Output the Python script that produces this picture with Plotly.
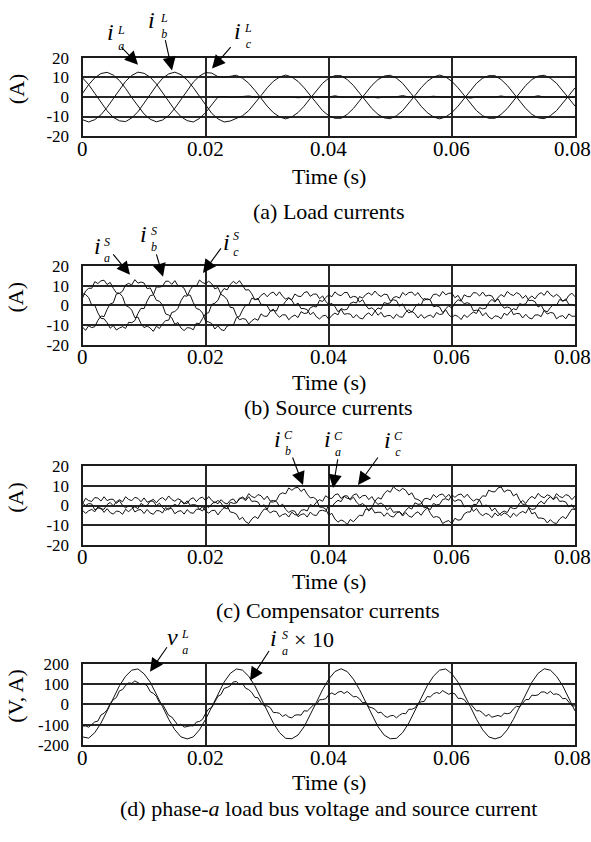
import plotly.graph_objects as go

# ---------------- data ----------------
t1_ms = [0, 1, 2, 3, 4, 5, 6, 7, 8, 9, 10, 11, 12, 13, 14, 15, 16, 17, 18, 19,
         20, 21, 22, 23, 24, 25, 26, 27, 28, 29, 30, 31, 32, 33, 34, 35, 36, 37, 38, 39,
         40, 41, 42, 43, 44, 45, 46, 47, 48, 49, 50, 51, 52, 53, 54, 55, 56, 57, 58, 59,
         60, 61, 62, 63, 64, 65, 66, 67, 68, 69, 70, 71, 72, 73, 74, 75, 76, 77, 78, 79, 80]

t2_ms = [0, 0.5, 1, 1.5, 2, 2.5, 3, 3.5, 4, 4.5, 5, 5.5, 6, 6.5, 7, 7.5, 8, 8.5, 9, 9.5,
         10, 10.5, 11, 11.5, 12, 12.5, 13, 13.5, 14, 14.5, 15, 15.5, 16, 16.5, 17, 17.5, 18, 18.5, 19, 19.5,
         20, 20.5, 21, 21.5, 22, 22.5, 23, 23.5, 24, 24.5, 25, 25.5, 26, 26.5, 27, 27.5, 28, 28.5, 29, 29.5,
         30, 30.5, 31, 31.5, 32, 32.5, 33, 33.5, 34, 34.5, 35, 35.5, 36, 36.5, 37, 37.5, 38, 38.5, 39, 39.5,
         40, 40.5, 41, 41.5, 42, 42.5, 43, 43.5, 44, 44.5, 45, 45.5, 46, 46.5, 47, 47.5, 48, 48.5, 49, 49.5,
         50, 50.5, 51, 51.5, 52, 52.5, 53, 53.5, 54, 54.5, 55, 55.5, 56, 56.5, 57, 57.5, 58, 58.5, 59, 59.5,
         60, 60.5, 61, 61.5, 62, 62.5, 63, 63.5, 64, 64.5, 65, 65.5, 66, 66.5, 67, 67.5, 68, 68.5, 69, 69.5,
         70, 70.5, 71, 71.5, 72, 72.5, 73, 73.5, 74, 74.5, 75, 75.5, 76, 76.5, 77, 77.5, 78, 78.5, 79, 79.5, 80]

# (a) load currents (A), 1 ms samples
ia_L = [-11.6, -12.8, -11.6, -9.1, -5.3, -0.8, 3.9, 8.0, 11.0, 12.7,
        12.1, 10.1, 6.7, 2.3, -2.3, -6.7, -10.1, -12.1, -12.8, -11.0,
        -8.0, -3.9, 0.0, 0.2, -0.1, 0.0, 0.1, 0.5, 0.0, 0.0,
        -0.1, 0.0, 0.1, 0.0, 0.0, -0.4, 0.0, 0.1, 0.0, 0.0,
        0.0, 0.6, 0.0, -0.1, 0.0, 0.0, 0.1, 0.0, -0.5, 0.0,
        0.0, 0.1, 0.7, 0.0, 0.0, -0.1, 0.0, 0.4, 0.0, 0.0,
        0.1, 0.0, 0.0, -0.6, 0.0, 0.0, 0.1, 0.0, 0.5, 0.0,
        -0.1, 0.0, 0.0, 0.0, 0.6, 0.0, 0.0, 0.1, 0.0, -0.4, 0.0]
ib_L = [9.8, 6.3, 1.8, -2.9, -7.1, -10.4, -12.2, -12.6, -10.7, -7.6,
        -3.4, 1.3, 5.8, 9.5, 11.8, 12.7, 11.4, 8.7, 4.8, 0.3,
        -4.4, -8.4, -11.2, -12.8, -12.3, -10.9, -9.6, -7.0, -3.4, 0.7,
        4.7, 8.0, 10.2, 11.2, 10.2, 8.0, 4.7, 0.7, -3.4, -7.0,
        -9.6, -10.9, -10.9, -8.9, -5.9, -2.1, 2.1, 5.9, 8.9, 10.7,
        11.1, 9.6, 7.0, 3.4, -0.7, -4.7, -8.0, -10.2, -11.2, -10.2,
        -8.0, -4.7, -0.7, 3.4, 7.0, 9.6, 10.9, 10.9, 8.9, 5.9,
        2.1, -2.1, -5.9, -8.9, -10.7, -11.1, -9.6, -7.0, -3.4, 0.7, 4.7]
ic_L = [1.8, 6.3, 9.8, 12.0, 12.6, 11.2, 8.4, 4.4, -0.3, -4.8,
        -8.7, -11.4, -12.7, -11.8, -9.5, -5.8, -1.3, 3.4, 7.6, 10.7,
        12.5, 12.2, 10.4, 10.0, 10.7, 11.1, 9.6, 7.0, 3.4, -0.7,
        -4.7, -8.0, -10.2, -11.2, -10.2, -8.0, -4.7, -0.7, 3.4, 7.0,
        9.6, 10.9, 10.9, 8.9, 5.9, 2.1, -2.1, -5.9, -8.9, -10.7,
        -11.1, -9.6, -7.0, -3.4, 0.7, 4.7, 8.0, 10.2, 11.2, 10.2,
        8.0, 4.7, 0.7, -3.4, -7.0, -9.6, -10.9, -10.9, -8.9, -5.9,
        -2.1, 2.1, 5.9, 8.9, 10.7, 11.1, 9.6, 7.0, 3.4, -0.7, -4.7]

# (b) source currents (A), 0.5 ms samples
ia_S = [-11.0, -12.7, -10.3, -11.3, -10.8, -7.6, -5.4, -5.7, -2.0, 0.8,
        1.3, 5.8, 6.1, 7.2, 10.4, 11.2, 10.4, 13.1, 11.3, 11.9,
        11.4, 8.5, 8.9, 5.4, 2.6, 2.1, 0.2, -4.3, -4.9, -6.3,
        -9.6, -8.7, -11.5, -12.8, -11.3, -11.5, -12.4, -9.0, -9.3, -6.6,
        -4.2, -3.7, 0.5, 1.1, 2.6, 6.4, 8.6, 7.9, 10.7, 12.2,
        11.0, 12.6, 9.9, 7.8, 8.0, 5.9, 2.8, 3.6, 0.5, 0.5,
        -0.2, -2.9, -1.9, -4.5, -6.0, -4.8, -4.8, -7.3, -5.8, -4.9,
        -6.2, -3.2, -4.1, -3.9, -1.2, -0.5, -0.8, 2.6, 2.0, 4.0,
        5.3, 4.4, 6.9, 5.5, 4.9, 6.5, 6.6, 3.8, 4.6, 4.3,
        1.7, 2.9, 0.1, -1.8, -1.2, -2.6, -5.0, -3.5, -5.9, -5.2,
        -5.1, -6.7, -4.5, -5.8, -6.0, -3.5, -2.2, -3.5, -0.9, 0.8,
        0.2, 3.6, 2.9, 3.1, 5.6, 5.7, 4.6, 7.1, 5.4, 6.2,
        6.2, 3.9, 5.1, 2.5, 0.8, 1.4, 0.6, -2.8, -2.4, -2.7,
        -5.3, -3.7, -5.9, -6.9, -5.3, -5.6, -6.8, -4.0, -5.0, -3.0,
        -1.7, -2.2, 0.9, 0.4, 0.8, 3.5, 4.8, 3.3, 5.5, 6.5,
        5.1, 7.4, 5.5, 4.4, 5.6, 4.4, 2.0, 3.3, 0.5, 0.5, -0.2]
ib_S = [6.0, 5.5, 4.0, 0.1, 0.1, -3.8, -6.6, -6.8, -8.8, -11.6,
        -10.2, -12.5, -11.5, -10.8, -11.7, -8.6, -8.8, -7.7, -4.1, -1.5,
        -1.6, 2.2, 5.0, 5.3, 9.4, 9.3, 9.7, 12.3, 12.3, 10.7,
        12.6, 10.0, 9.9, 8.7, 5.3, 5.2, 1.4, -1.6, -2.1, -3.9,
        -8.1, -8.4, -9.2, -12.0, -10.3, -12.3, -12.8, -10.5, -10.0, -10.1,
        -6.2, -5.6, -2.3, 0.1, 0.2, 3.7, 3.1, 3.1, 5.1, 6.2,
        4.4, 6.1, 6.8, 4.9, 6.9, 4.6, 3.2, 4.0, 2.6, 0.0,
        1.2, -1.6, -1.6, -2.2, -4.7, -3.5, -5.8, -6.9, -5.4, -5.0,
        -7.0, -5.1, -3.9, -4.8, -1.6, -2.3, -1.9, 1.0, 1.7, 1.2,
        4.5, 3.7, 5.5, 6.4, 5.2, 7.3, 5.5, 4.5, 5.7, 5.5,
        2.3, 2.9, 2.4, -0.4, 0.8, -2.0, -3.8, -3.0, -4.2, -6.4,
        -4.6, -6.5, -5.5, -4.9, -6.2, -3.6, -4.6, -4.4, -1.7, -0.2,
        -1.4, 1.2, 2.9, 2.2, 5.4, 4.5, 4.4, 6.5, 6.3, 4.8,
        6.8, 4.7, 5.2, 4.8, 2.3, 3.3, 0.5, -1.4, -0.8, -1.4,
        -4.7, -4.1, -4.2, -6.4, -4.5, -6.3, -6.9, -4.9, -4.8, -5.7,
        -2.5, -3.3, -1.1, 0.4, -0.1, 3.0, 2.4, 2.6, 5.1, 6.2, 4.4]
ic_S = [3.7, 7.3, 8.7, 8.7, 12.1, 11.1, 12.5, 12.8, 10.6, 11.7,
        8.7, 6.4, 6.2, 4.5, 0.0, -0.8, -2.4, -6.2, -5.9, -9.2,
        -11.3, -10.5, -11.5, -13.2, -10.6, -11.7, -9.5, -7.7, -7.5, -3.6,
        -3.1, -1.6, 2.4, 4.9, 4.7, 8.0, 10.2, 9.7, 12.9, 11.6,
        11.0, 12.3, 11.0, 8.4, 9.1, 5.6, 4.7, 2.9, -1.0, -1.2,
        -5.1, -7.3, -6.7, -7.0, -9.5, -7.8, -6.7, -7.6, -4.3, -5.5,
        -5.5, -3.0, -2.5, -2.9, 0.5, -0.1, 2.1, 3.6, 2.9, 5.8,
        4.7, 4.5, 6.5, 7.0, 4.6, 5.7, 5.8, 3.4, 4.8, 2.1,
        0.4, 1.0, -0.6, -3.2, -1.9, -4.5, -4.2, -4.4, -6.4, -4.7,
        -6.4, -6.9, -4.8, -3.8, -5.3, -2.9, -1.3, -1.9, 1.5, 0.9,
        1.3, 4.0, 4.5, 3.7, 6.6, 5.2, 6.5, 6.8, 5.0, 6.5,
        4.1, 2.6, 3.4, 2.7, -0.7, -0.3, -0.8, -3.6, -2.2, -4.8,
        -6.1, -4.9, -5.6, -7.2, -4.8, -6.1, -4.5, -3.4, -4.1, -1.1,
        -1.8, -1.4, 1.5, 3.0, 1.7, 4.1, 5.5, 4.4, 7.1, 5.7,
        5.0, 6.5, 5.7, 3.6, 5.1, 2.5, 2.6, 1.9, -0.8, 0.1,
        -2.7, -4.4, -3.6, -3.9, -6.8, -5.6, -5.2, -6.8, -4.3, -5.5, -5.5]

# (c) compensator currents (A), 0.5 ms samples
ia_C = [1.3, 0.0, 1.0, 0.8, -2.2, -1.3, -1.3, -3.5, -1.6, -3.6,
        -4.4, -2.8, -3.1, -4.5, -1.9, -3.2, -1.6, -0.6, -1.6, 1.1,
        0.0, 0.0, 2.3, 3.2, 1.4, 3.3, 4.1, 2.6, 4.9, 3.1,
        2.2, 3.5, 2.7, 0.7, 2.4, 0.1, 0.5, 0.2, -2.0, -0.6,
        -2.8, -3.9, -2.6, -2.4, -4.8, -2.6, -1.1, -1.7, 1.7, 1.1,
        1.3, 3.8, 3.8, 2.5, 4.5, 2.1, 2.3, 1.8, -0.7, 0.4,
        -2.2, -3.8, -2.8, -3.1, -5.8, -4.6, -4.2, -5.9, -3.4, -4.7,
        -4.9, -2.5, -2.1, -2.8, 0.5, -0.3, 1.7, 3.0, 2.2, 5.0,
        3.8, 3.6, 5.5, 6.0, 3.6, 4.9, 5.0, 2.8, 4.3, 1.8,
        0.2, 1.0, -0.3, -2.8, -1.3, -3.8, -3.4, -3.5, -5.5, -3.7,
        -5.4, -5.9, -3.9, -3.1, -4.7, -2.5, -1.0, -1.8, 1.4, 0.6,
        0.8, 3.4, 3.7, 2.9, 5.6, 4.2, 5.5, 5.9, 4.1, 5.7,
        3.5, 2.1, 3.0, 2.6, -0.7, -0.1, -0.4, -3.0, -1.5, -4.0,
        -5.2, -4.0, -4.6, -6.2, -3.8, -5.3, -3.7, -2.8, -3.6, -0.8,
        -1.6, -1.4, 1.2, 2.6, 1.1, 3.4, 4.7, 3.5, 6.2, 4.7,
        4.0, 5.5, 4.8, 2.9, 4.5, 2.1, 2.3, 1.8, -0.7, 0.4, -2.2]
ib_C = [0.9, 3.7, 2.5, 2.1, 4.1, 3.8, 2.3, 4.5, 2.5, 3.2,
        3.2, 1.1, 2.5, 0.1, -1.2, -0.2, -0.4, -3.3, -2.3, -2.1,
        -4.1, -2.0, -3.8, -4.5, -2.6, -2.7, -3.8, -1.0, -2.2, -0.4,
        0.6, -0.3, 2.3, 1.2, 1.1, 3.2, 4.0, 2.0, 3.7, 4.3,
        2.5, 4.6, 2.6, 1.4, 2.6, 1.4, -1.2, -0.2, -3.3, -3.6,
        -4.4, -7.2, -6.0, -8.3, -9.2, -6.9, -5.6, -6.7, -3.9, -1.8,
        -2.0, 1.9, 1.8, 2.6, 5.7, 6.5, 6.0, 9.0, 7.8, 9.0,
        9.3, 7.2, 8.5, 5.8, 3.9, 4.2, 3.1, -0.8, -0.9, -1.8,
        -5.0, -4.0, -6.9, -8.5, -7.4, -8.1, -9.7, -7.1, -8.3, -6.4,
        -4.9, -5.3, -1.8, -2.0, -1.1, 2.2, 4.1, 3.3, 6.0, 7.7,
        6.8, 9.6, 8.2, 7.4, 8.8, 7.8, 5.4, 6.5, 3.5, 3.1,
        2.0, -1.2, -0.8, -4.0, -6.1, -5.6, -6.2, -9.2, -8.2, -7.7,
        -9.3, -6.5, -7.5, -7.2, -4.3, -3.3, -3.3, 0.6, 0.5, 3.1,
        5.0, 4.7, 7.9, 7.1, 7.0, 9.0, 9.5, 6.9, 7.9, 7.7,
        4.9, 6.0, 2.8, 0.6, 0.7, -1.3, -4.3, -3.5, -6.4, -6.4,
        -6.8, -8.9, -7.2, -8.8, -9.2, -6.9, -5.6, -6.7, -3.9, -1.8, -2.0]
ic_C = [-2.4, -4.0, -2.7, -2.0, -3.2, -0.7, -1.8, -1.9, 0.5, 1.6,
        -0.2, 1.9, 3.0, 1.9, 4.5, 3.1, 2.5, 4.2, 3.7, 1.9,
        3.9, 1.7, 2.3, 2.2, -0.1, 1.2, -1.1, -2.5, -1.3, -1.5,
        -4.2, -3.0, -2.6, -4.4, -2.1, -3.6, -4.0, -1.9, -1.9, -2.8,
        0.1, -1.0, 0.8, 1.9, 0.9, 3.0, 1.4, 0.8, 2.7, 3.4,
        1.4, 3.3, 4.4, 3.2, 6.1, 4.6, 4.0, 5.6, 5.0, 3.0,
        4.8, 2.3, 2.6, 2.1, -0.4, 0.7, -2.0, -3.5, -2.6, -2.9,
        -5.7, -4.6, -4.2, -5.9, -3.4, -4.8, -5.1, -2.7, -2.4, -3.0,
        0.2, -0.6, 1.4, 2.7, 2.0, 4.7, 3.7, 3.4, 5.4, 6.0,
        3.7, 5.0, 5.2, 3.0, 4.6, 2.1, 0.6, 1.3, 0.0, -2.4,
        -1.0, -3.5, -3.2, -3.3, -5.4, -3.6, -5.4, -6.0, -4.1, -3.2,
        -5.0, -2.7, -1.3, -2.1, 1.1, 0.3, 0.6, 3.1, 3.5, 2.7,
        5.5, 4.2, 5.5, 5.9, 4.1, 5.8, 3.7, 2.3, 3.3, 2.8,
        -0.4, 0.2, -0.1, -2.7, -1.3, -3.7, -5.1, -3.8, -4.5, -6.2,
        -3.9, -5.4, -3.9, -3.0, -3.9, -1.1, -2.0, -1.7, 0.9, 2.2,
        0.8, 3.1, 4.5, 3.3, 6.1, 4.6, 4.0, 5.6, 5.0, 3.0, 4.8]

# (d) phase-a load bus voltage (V, 1 ms samples) and source current x10 (A, 0.5 ms samples)
va_L = [-160, -166, -139, -92, -32, 32, 92, 139, 169, 175,
        151, 110, 53, -11, -73, -125, -160, -170, -160, -125,
        -73, -11, 53, 110, 153, 175, 169, 139, 92, 32,
        -32, -92, -139, -167, -169, -151, -110, -53, 11, 73,
        125, 162, 176, 162, 125, 73, 11, -53, -110, -151,
        -169, -167, -139, -92, -32, 32, 92, 139, 169, 175,
        151, 110, 53, -11, -73, -125, -160, -170, -160, -125,
        -73, -11, 53, 110, 153, 176, 169, 139, 92, 32, -32]
ia_S10 = [-107, -106, -112, -100, -86, -82, -52, -43, -27, 4,
          23, 34, 67, 73, 94, 106, 104, 116, 109, 99,
          102, 92, 63, 55, 40, 9, 1, -30, -54, -62,
          -80, -102, -97, -112, -109, -105, -106, -87, -84, -73,
          -44, -22, -15, 15, 40, 49, 79, 84, 92, 111,
          113, 98, 103, 80, 73, 59, 35, 33, 9, -7,
          -7, -16, -40, -40, -44, -59, -50, -62, -66, -53,
          -51, -53, -31, -33, -16, -3, 0, 23, 24, 28,
          48, 57, 48, 60, 65, 54, 64, 49, 38, 39,
          28, 8, 11, -12, -16, -24, -42, -38, -55, -64,
          -56, -54, -66, -53, -44, -46, -24, -24, -17, 4,
          13, 15, 39, 37, 52, 59, 54, 68, 58, 50,
          57, 52, 30, 30, 24, 3, 4, -17, -32, -31,
          -42, -58, -49, -63, -57, -54, -60, -43, -46, -42,
          -22, -9, -12, 9, 24, 24, 46, 44, 47, 61,
          62, 53, 65, 50, 52, 46, 28, 30, 9, -7, -7]

x_tick_vals = [0, 0.02, 0.04, 0.06, 0.08]
x_tick_text = ["0", "0.02", "0.04", "0.06", "0.08"]
y_tick_vals_A = [-20, -10, 0, 10, 20]
y_tick_text_A = ["-20", "-10", "0", "10", "20"]
y_tick_vals_V = [-200, -100, 0, 100, 200]
y_tick_text_V = ["-200", "-100", "0", "100", "200"]

# ---------------- layout helpers ----------------
W, H = 591, 842
SERIF = "Liberation Serif"
INK = "#111111"
FRAME = "#1c1c1c"
GRID = "#262626"
DY = -6          # glyphs sit a little below the centre of plotly's text box
Y_TICK_SIZE = 17
X_TICK_SIZE = 21


def px(x):
    return x / W


def py(y):
    return 1 - y / H


x1 = [v / 1000 for v in t1_ms]
x2 = [v / 1000 for v in t2_ms]

fig = go.Figure()

X_LEFT, X_RIGHT = 82.5, 575.0
panels = [  # (top px, bottom px)
    (50.0, 130.0),
    (263.0, 343.5),
    (468.0, 548.0),
    (670.0, 753.0),
]

series = [
    [(x1, ia_L), (x1, ib_L), (x1, ic_L)],
    [(x2, ia_S), (x2, ib_S), (x2, ic_S)],
    [(x2, ia_C), (x2, ib_C), (x2, ic_C)],
    [(x1, va_L), (x2, ia_S10)],
]

annotations = []


def text(x, y, s, size=22, angle=0, italic=False, dy=DY):
    if italic:
        s = "<i>" + s + "</i>"
    annotations.append(dict(x=px(x), y=py(y + dy), xref="paper", yref="paper",
                            text=s, showarrow=False, textangle=angle,
                            xanchor="center", yanchor="middle", borderpad=0,
                            font=dict(family=SERIF, size=size, color="black")))


layout_axes = {}
for i, (top, bot) in enumerate(panels):
    n = "" if i == 0 else str(i + 1)
    for xs, ys in series[i]:
        fig.add_trace(go.Scatter(x=xs, y=ys, mode="lines",
                                 line=dict(color=INK, width=1),
                                 xaxis="x" + n, yaxis="y" + n,
                                 showlegend=False, hoverinfo="skip"))
    common = dict(showline=True, linecolor=FRAME, linewidth=2, mirror=True,
                  showgrid=True, gridcolor=GRID, gridwidth=1.6,
                  zeroline=False, tickcolor="rgba(0,0,0,0)")
    layout_axes["xaxis" + n] = dict(domain=[px(X_LEFT), px(X_RIGHT)],
                                    anchor="y" + n, range=[0, 0.08],
                                    tickvals=x_tick_vals, ticks="",
                                    showticklabels=False, **common)
    # x tick labels placed through the x axis scale (data coordinates)
    for j, (v, s) in enumerate(zip(x_tick_vals, x_tick_text)):
        annotations.append(dict(x=v, y=py(bot + 19 + DY), xref="x" + n, yref="paper",
                                text=s, showarrow=False, xanchor="center",
                                yanchor="middle", borderpad=0,
                                xshift=-3 if j == len(x_tick_vals) - 1 else 0,
                                font=dict(family=SERIF, size=X_TICK_SIZE, color="black")))
    if i < 3:
        yv, yt, yr = y_tick_vals_A, y_tick_text_A, [-20, 20]
    else:
        yv, yt, yr = y_tick_vals_V, y_tick_text_V, [-200, 200]
    layout_axes["yaxis" + n] = dict(domain=[py(bot), py(top)],
                                    anchor="x" + n, range=yr,
                                    tickvals=yv, ticktext=yt,
                                    ticks="outside", ticklen=8,
                                    tickfont=dict(family=SERIF, size=Y_TICK_SIZE,
                                                  color="black"),
                                    **common)


def arrow(tail, tip):
    annotations.append(dict(x=px(tip[0]), y=py(tip[1]), xref="paper", yref="paper",
                            ax=tail[0] - tip[0], ay=tail[1] - tip[1],
                            axref="pixel", ayref="pixel", text="",
                            showarrow=True, arrowhead=2, arrowsize=2.4,
                            arrowwidth=1.1, arrowcolor="black", standoff=0))


def label(main, sup, sub, mx, my, supxy, subxy):
    # main italic letter, then superscript stacked over subscript in one text block
    text(mx, my - 4, main, size=24, italic=True)
    bx = (supxy[0] + subxy[0]) / 2 + 2.5
    by = (supxy[1] + subxy[1]) / 2 - 1
    text(bx, by, sup + "<br>" + sub, size=12, italic=True, dy=-3)


# axis titles, x labels, captions
y_titles = ["(A)", "(A)", "(A)", "(V, A)"]
time_y = [177, 388, 592, 797]
captions = ["(a) Load currents", "(b) Source currents", "(c) Compensator currents",
            "(d) phase-<i>a</i> load bus voltage and source current"]
cap_y = [213, 414, 621, 824]
for i, (top, bot) in enumerate(panels):
    text(16, (top + bot) / 2 - 8, y_titles[i], angle=-90, dy=0)
    text(329, time_y[i], "Time (s)")
    text(328, cap_y[i], captions[i])

# panel (a) labels
label("i", "L", "a", 110, 34, (118, 28), (118, 40))
arrow((120, 38), (138, 57))
label("i", "L", "b", 152, 21, (161, 15), (161, 27))
arrow((165, 31), (172, 63))
label("i", "L", "c", 237, 33, (246, 26), (245, 38))
arrow((232, 38), (212, 61))

# panel (b) labels
label("i", "S", "a", 97, 252, (105, 245), (104, 257))
arrow((112, 250), (130, 272))
label("i", "S", "b", 143, 240, (152, 233), (151, 245))
arrow((156, 250), (163, 274))
label("i", "S", "c", 226, 248, (234, 237), (233, 251))
arrow((222, 244), (203, 270))

# panel (c) labels
label("i", "C", "b", 277, 450, (287, 441), (285, 456))
arrow((292, 458), (303, 487))
label("i", "C", "a", 327, 450, (337, 442), (335, 456))
arrow((338, 460), (333, 490))
label("i", "C", "c", 387, 451, (397, 442), (395, 457))
arrow((379, 458), (358, 487))

# panel (d) labels
label("v", "L", "a", 172, 652, (183, 645), (182, 658))
arrow((168, 652), (150, 678))
label("i", "S", "a", 273, 654, (283, 647), (282, 659))
text(314, 651, "× 10")
arrow((270, 656), (250, 687))

fig.update_layout(
    width=W, height=H,
    margin=dict(l=0, r=0, t=0, b=0),
    paper_bgcolor="white", plot_bgcolor="white",
    annotations=annotations,
    **layout_axes,
)

fig.write_html("out.html")
